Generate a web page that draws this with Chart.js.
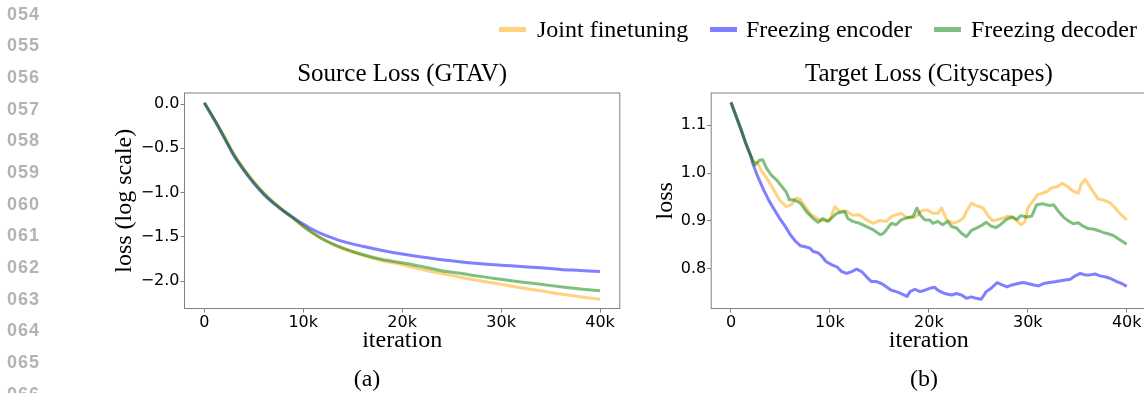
<!DOCTYPE html>
<html><head><meta charset="utf-8">
<script src="https://cdn.jsdelivr.net/npm/chart.js@4.4.0/dist/chart.umd.min.js"></script>
<style>
html,body{margin:0;padding:0;background:#fff;}
body{width:1144px;height:393px;overflow:hidden;position:relative;}
canvas{position:absolute;top:0;}
#c1{left:0;} #c2{left:620px;}
.ln{position:absolute;left:7px;font:bold 18px "Liberation Sans",Arial,sans-serif;color:#b3b3b3;letter-spacing:1px;line-height:1;}
.leg{position:absolute;top:17px;font:24px "Liberation Serif","Times New Roman",serif;color:#000;line-height:1;white-space:nowrap;}
.sw{position:absolute;top:26.5px;height:5px;width:27px;}
.cap{position:absolute;top:366px;font:24px "Liberation Serif","Times New Roman",serif;color:#000;line-height:1;transform:translateX(-50%);}
</style></head>
<body>
<canvas id="c1" width="660" height="393"></canvas>
<canvas id="c2" width="540" height="393"></canvas>
<div id="overlay"></div>
<script>
// ---------- data ----------
const lineNumbers = ['054','055','056','057','058','059','060','061','062','063','064','065','066'];
const legendLabels = ['Joint finetuning','Freezing encoder','Freezing decoder'];
const seriesColors = ['rgba(255,165,0,0.5)','rgba(0,0,255,0.5)','rgba(0,128,0,0.5)'];
const chartTitles = ['Source Loss (GTAV)','Target Loss (Cityscapes)'];
const captions = ['(a)','(b)'];

const xTicks = [0,10,20,30,40];            // thousands of iterations
const xTickLabels = ['0','10k','20k','30k','40k'];
const srcYTicks = [0,-0.5,-1,-1.5,-2];
const tgtYTicks = [0.8,0.9,1.0,1.1];

// Source loss (log scale)
const srcIter    = [0,1,2,3,4,5,6,7,8,9,10,11,12,13,14,16,18,20,22,24,26,28,30,32,34,36,38,40];
const srcJoint   = [0.015,-0.17,-0.362,-0.565,-0.73,-0.875,-1.0,-1.108,-1.203,-1.29,-1.38,-1.46,-1.528,-1.583,-1.632,-1.71,-1.77,-1.815,-1.87,-1.915,-1.96,-2.0,-2.036,-2.075,-2.11,-2.147,-2.178,-2.205];
const srcEncoder = [0.015,-0.175,-0.378,-0.585,-0.75,-0.895,-1.02,-1.122,-1.208,-1.283,-1.355,-1.42,-1.472,-1.515,-1.552,-1.607,-1.654,-1.694,-1.729,-1.76,-1.785,-1.805,-1.82,-1.835,-1.85,-1.868,-1.88,-1.893];
const srcDecoder = [0.015,-0.172,-0.37,-0.575,-0.74,-0.885,-1.01,-1.115,-1.205,-1.29,-1.38,-1.46,-1.528,-1.582,-1.627,-1.70,-1.757,-1.792,-1.835,-1.883,-1.915,-1.95,-1.98,-2.01,-2.037,-2.065,-2.09,-2.11];

// Target loss
const tgtJointIter = [0,0.5,1,1.5,2,2.2,2.7,3.1,3.6,4.1,4.9,5.6,6.1,6.6,7,7.6,8.1,9,9.6,10,10.5,11,11.7,12.3,13,13.7,14.4,15,15.7,16.2,16.6,17.2,17.7,18.4,18.9,19.3,19.8,20.4,20.9,21.3,21.8,22.5,23,23.5,23.8,24.3,24.8,25.5,26,26.5,27,27.5,28,28.5,28.9,29.3,29.7,30,30.5,31,31.5,32,32.4,33,33.5,34,34.6,35.1,35.4,35.8,36.3,36.8,37.1,37.6,38.3,38.8,39.3,39.6,40];
const tgtJointLoss = [1.148,1.12,1.092,1.062,1.036,1.026,1.02,1.004,0.99,0.973,0.944,0.93,0.934,0.948,0.945,0.927,0.913,0.902,0.9,0.902,0.93,0.92,0.92,0.912,0.913,0.902,0.895,0.901,0.899,0.909,0.912,0.916,0.908,0.906,0.913,0.922,0.923,0.916,0.916,0.927,0.902,0.895,0.899,0.906,0.92,0.937,0.932,0.927,0.91,0.9,0.903,0.906,0.91,0.908,0.9,0.892,0.898,0.927,0.941,0.955,0.958,0.962,0.969,0.972,0.979,0.972,0.962,0.958,0.977,0.987,0.971,0.955,0.946,0.944,0.938,0.928,0.916,0.91,0.902];

const tgtEncoderIter = [0,0.5,1,1.5,2,2.2,2.7,3.3,3.8,4.4,4.9,5.5,6,6.5,7,7.5,8,8.3,8.8,9.1,9.6,10.2,10.7,11.2,11.7,12.2,12.7,13.2,13.7,14.2,14.7,15.2,15.7,16.2,16.7,17.2,17.8,18.1,18.6,19.1,19.6,20.1,20.6,20.9,21.6,22.3,22.8,23.3,23.8,24.3,24.8,25.3,25.8,26.3,26.9,27.4,27.9,28.4,29,29.5,30,30.6,31.1,31.6,32.2,32.9,33.6,34.3,34.8,35.3,35.8,36.3,36.8,37.3,37.8,38.3,39,39.5,40];
const tgtEncoderLoss = [1.148,1.12,1.092,1.062,1.036,1.02,0.993,0.965,0.944,0.923,0.906,0.888,0.871,0.858,0.848,0.846,0.843,0.836,0.833,0.828,0.815,0.808,0.804,0.794,0.79,0.794,0.799,0.794,0.783,0.773,0.773,0.769,0.762,0.755,0.752,0.748,0.742,0.752,0.757,0.752,0.755,0.759,0.761,0.755,0.748,0.745,0.748,0.745,0.738,0.741,0.738,0.736,0.752,0.759,0.771,0.766,0.762,0.766,0.769,0.771,0.769,0.766,0.764,0.769,0.771,0.773,0.776,0.778,0.785,0.79,0.787,0.787,0.789,0.785,0.783,0.78,0.773,0.769,0.763];

const tgtDecoderIter = [0,0.5,1,1.5,2,2.4,2.9,3.2,3.6,4.1,4.6,5.1,5.6,5.9,6.3,6.8,7.1,7.6,8.3,8.8,9.3,9.8,10.1,10.7,11.5,11.8,12.3,13,13.7,14.4,15.1,15.4,15.7,16.2,16.7,17.2,17.7,18.4,18.8,19.1,19.6,20.1,20.4,20.9,21.4,21.9,22.3,22.8,23.3,23.8,24.3,24.8,25.3,25.8,26.3,26.8,27.3,27.9,28.4,28.9,29.3,29.9,30.4,30.9,31.5,32.2,32.6,33.1,33.6,34.1,34.6,35.1,35.6,36.1,36.6,37.1,37.6,38.1,38.6,39.1,39.5,40];
const tgtDecoderLoss = [1.148,1.12,1.092,1.062,1.036,1.017,1.027,1.028,1.01,0.995,0.986,0.973,0.96,0.944,0.944,0.94,0.935,0.92,0.905,0.897,0.905,0.899,0.905,0.916,0.92,0.905,0.899,0.895,0.888,0.881,0.871,0.874,0.881,0.895,0.892,0.902,0.906,0.909,0.927,0.913,0.902,0.902,0.895,0.899,0.892,0.899,0.888,0.885,0.874,0.867,0.88,0.885,0.89,0.897,0.889,0.886,0.893,0.904,0.908,0.903,0.911,0.908,0.91,0.934,0.936,0.932,0.934,0.92,0.908,0.9,0.894,0.896,0.889,0.884,0.883,0.88,0.876,0.873,0.87,0.863,0.858,0.851];

// ---------- helpers ----------
const pts = (xs, ys) => xs.slice(0, Math.min(xs.length, ys.length)).map((x, i) => ({x: x, y: ys[i]}));
const serif = '"Liberation Serif","Times New Roman",serif';
const sans = '"DejaVu Sans",sans-serif';
const fmt = v => Number(v).toFixed(1).replace('-', '\u2212');

const framePlugin = {
  id: 'frame',
  afterDatasetsDraw(chart) {
    const {ctx, chartArea: a} = chart;
    ctx.save();
    ctx.strokeStyle = '#808080';
    ctx.lineWidth = 1;
    ctx.strokeRect(a.left, a.top, a.right - a.left, a.bottom - a.top);
    ctx.restore();
  }
};

function makeChart(canvas, o) {
  const ds = o.series.map((s, i) => ({
    label: legendLabels[i],
    data: pts(s.x, s.y),
    borderColor: seriesColors[i],
    backgroundColor: seriesColors[i],
    borderWidth: 3,
    pointRadius: 0,
    fill: false,
    borderJoinStyle: 'round',
    tension: o.smooth ? 0.4 : 0,
    cubicInterpolationMode: o.smooth ? 'monotone' : 'default',
    order: 2 - i
  }));
  return new Chart(canvas, {
    type: 'line',
    data: {datasets: ds},
    plugins: [framePlugin],
    options: {
      responsive: false,
      animation: false,
      devicePixelRatio: 1,
      layout: {padding: o.padding},
      plugins: {
        legend: {display: false},
        tooltip: {enabled: false},
        title: {
          display: true, text: o.title, fullSize: false,
          font: {family: serif, size: 25, weight: 'normal', lineHeight: 1.2},
          color: '#000', padding: {top: 59, bottom: 4}
        }
      },
      scales: {
        x: {
          type: 'linear', min: -2, max: 42,
          afterBuildTicks: s => { s.ticks = xTicks.map(v => ({value: v})); },
          afterFit: s => { s.height = 50; },
          ticks: {callback: (v, i) => xTickLabels[i], font: {family: sans, size: 16}, color: '#000', padding: 1, maxRotation: 0, autoSkip: false},
          grid: {drawOnChartArea: false, drawTicks: true, tickLength: 4, color: '#808080'},
          border: {display: false},
          title: {display: true, text: 'iteration', font: {family: serif, size: 24, lineHeight: 1.2}, color: '#000', padding: {top: 0, bottom: 3}}
        },
        y: {
          type: 'linear', min: o.ymin, max: o.ymax,
          afterBuildTicks: s => { s.ticks = o.yTicks.map(v => ({value: v})); },
          afterFit: s => { s.width = o.yWidth; },
          ticks: {callback: v => fmt(v), font: {family: sans, size: 16}, color: '#000', padding: 1},
          grid: {drawOnChartArea: false, drawTicks: true, tickLength: 4, color: '#808080'},
          border: {display: false},
          title: {display: true, text: o.ylabel, font: {family: serif, size: 24, lineHeight: 1.2}, color: '#000', padding: {top: o.yTitlePad, bottom: 0}}
        }
      }
    }
  });
}

makeChart(document.getElementById('c1'), {
  title: chartTitles[0], ylabel: 'loss (log scale)', smooth: true,
  ymin: -2.31, ymax: 0.125, yTicks: srcYTicks, yWidth: 80, yTitlePad: 6,
  padding: {left: 104.5, right: 40.2, top: 0, bottom: 34.5},
  series: [{x: srcIter, y: srcJoint}, {x: srcIter, y: srcEncoder}, {x: srcIter, y: srcDecoder}]
});
makeChart(document.getElementById('c2'), {
  title: chartTitles[1], ylabel: 'loss', smooth: false,
  ymin: 0.7167, ymax: 1.1676, yTicks: tgtYTicks, yWidth: 60, yTitlePad: 0.4,
  padding: {left: 31.2, right: 13.5, top: 0, bottom: 34.5},
  series: [{x: tgtJointIter, y: tgtJointLoss}, {x: tgtEncoderIter, y: tgtEncoderLoss}, {x: tgtDecoderIter, y: tgtDecoderLoss}]
});

// ---------- surrounding text (line numbers, legend, captions) ----------
const ov = document.getElementById('overlay');
lineNumbers.forEach((t, k) => {
  const d = document.createElement('div');
  d.className = 'ln'; d.textContent = t;
  d.style.top = (4.8 + 31.65 * k) + 'px';
  ov.appendChild(d);
});
const legendSwatchX = [499, 710, 934];
const legendTextX = [537, 746, 971];
legendLabels.forEach((t, i) => {
  const s = document.createElement('div');
  s.className = 'sw'; s.style.left = legendSwatchX[i] + 'px'; s.style.background = seriesColors[i];
  ov.appendChild(s);
  const l = document.createElement('div');
  l.className = 'leg'; l.style.left = legendTextX[i] + 'px'; l.textContent = t;
  ov.appendChild(l);
});
const captionX = [367, 924];
captions.forEach((t, i) => {
  const c = document.createElement('div');
  c.className = 'cap'; c.style.left = captionX[i] + 'px'; c.textContent = t;
  ov.appendChild(c);
});
</script>
</body></html>
